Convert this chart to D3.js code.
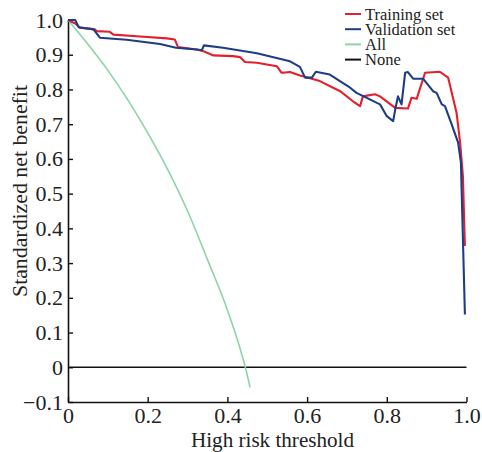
<!DOCTYPE html>
<html>
<head>
<meta charset="utf-8">
<script src="https://cdn.jsdelivr.net/npm/d3@7"></script>
<style>
  body { margin: 0; background: #fff; }
  text { font-family: "Liberation Serif", "Times New Roman", serif; fill: #222; }
</style>
</head>
<body>
<div id="chart"></div>
<script>
// ----------------------------
// DATA
// ----------------------------
const trainX = [0, 0.018, 0.03, 0.068, 0.072, 0.105, 0.114, 0.172, 0.248, 0.268, 0.276, 0.323, 0.34, 0.365, 0.414, 0.432, 0.444, 0.474, 0.524, 0.536, 0.557, 0.582, 0.612, 0.632, 0.683, 0.715, 0.733, 0.74, 0.77, 0.783, 0.821, 0.853, 0.862, 0.875, 0.896, 0.933, 0.954, 0.975, 0.984, 0.991, 0.996];
const trainY = [1.0, 0.99, 0.978, 0.973, 0.968, 0.966, 0.958, 0.953, 0.947, 0.944, 0.922, 0.915, 0.91, 0.898, 0.896, 0.893, 0.879, 0.877, 0.867, 0.848, 0.85, 0.84, 0.831, 0.824, 0.795, 0.766, 0.752, 0.78, 0.786, 0.78, 0.747, 0.745, 0.776, 0.773, 0.848, 0.851, 0.834, 0.733, 0.647, 0.55, 0.349];

const validX = [0, 0.018, 0.027, 0.064, 0.08, 0.147, 0.231, 0.271, 0.323, 0.336, 0.341, 0.389, 0.474, 0.557, 0.582, 0.595, 0.612, 0.622, 0.657, 0.708, 0.724, 0.783, 0.8, 0.816, 0.821, 0.828, 0.837, 0.846, 0.853, 0.866, 0.891, 0.903, 0.916, 0.925, 0.938, 0.946, 0.963, 0.979, 0.986, 0.996];
const validY = [1.0, 1.0, 0.979, 0.973, 0.949, 0.943, 0.931, 0.92, 0.915, 0.913, 0.927, 0.92, 0.904, 0.881, 0.865, 0.834, 0.834, 0.851, 0.843, 0.805, 0.79, 0.757, 0.723, 0.709, 0.742, 0.78, 0.757, 0.848, 0.85, 0.831, 0.831, 0.814, 0.795, 0.79, 0.757, 0.752, 0.699, 0.647, 0.589, 0.152];

const allX = [0, 0.05, 0.1, 0.15, 0.2, 0.25, 0.3, 0.35, 0.4, 0.445, 0.457];
const allY = [1.0, 0.93, 0.855, 0.77, 0.675, 0.57, 0.45, 0.31, 0.165, 0.0, -0.058];

const noneX = [0, 1.0];
const noneY = [0, 0];

const xTicks = [0, 0.2, 0.4, 0.6, 0.8, 1.0];
const yTicks = [-0.1, 0, 0.1, 0.2, 0.3, 0.4, 0.5, 0.6, 0.7, 0.8, 0.9, 1.0];

const seriesNames = ["Training set", "Validation set", "All", "None"];
const seriesColors = ["#e3202b", "#1e3d87", "#8dd3a8", "#111111"];

// ----------------------------
// SETUP
// ----------------------------
const width = 482;
const height = 452;

const svg = d3.select("#chart")
  .append("svg")
  .attr("width", width)
  .attr("height", height);

const x = d3.scaleLinear().domain([0, 1]).range([68, 466.5]);
const y = d3.scaleLinear().domain([-0.1, 1.0]).range([402, 20]);

const fmtY = d => d === 0 ? "0" : (d < 0 ? "\u2212" + d3.format(".1f")(-d) : d3.format(".1f")(d));
const fmtX = d => d === 0 ? "0" : d3.format(".1f")(d);

// ----------------------------
// AXES (ticks inward)
// ----------------------------
const xAxis = svg.append("g")
  .attr("transform", `translate(0,${y(-0.1)})`)
  .call(d3.axisBottom(x).tickValues(xTicks).tickFormat(fmtX).tickSizeInner(-5).tickSizeOuter(0).tickPadding(5));

const yAxis = svg.append("g")
  .attr("transform", `translate(${x(0)},0)`)
  .call(d3.axisLeft(y).tickValues(yTicks).tickFormat(fmtY).tickSizeInner(-5).tickSizeOuter(0).tickPadding(5));

[xAxis, yAxis].forEach(a => {
  a.select(".domain").attr("stroke", "#111").attr("stroke-width", 1.6);
  a.selectAll(".tick line").attr("stroke", "#111").attr("stroke-width", 1.4);
  a.selectAll(".tick text")
    .style("font-size", "22px")
    .style("font-family", "'Liberation Serif', serif")
    .attr("fill", "#222");
});

// ----------------------------
// LINES
// ----------------------------
const line = d3.line()
  .x(d => x(d[0]))
  .y(d => y(d[1]));

const smooth = d3.line()
  .x(d => x(d[0]))
  .y(d => y(d[1]))
  .curve(d3.curveMonotoneX);

const series = [
  { name: "None", pts: d3.zip(noneX, noneY), color: seriesColors[3], w: 1.6, gen: line },
  { name: "All", pts: d3.zip(allX, allY), color: seriesColors[2], w: 1.6, gen: smooth },
  { name: "Training set", pts: d3.zip(trainX, trainY), color: seriesColors[0], w: 2.1, gen: line },
  { name: "Validation set", pts: d3.zip(validX, validY), color: seriesColors[1], w: 2.1, gen: line }
];

svg.selectAll(".series")
  .data(series)
  .join("path")
  .attr("class", "series")
  .attr("fill", "none")
  .attr("stroke", d => d.color)
  .attr("stroke-width", d => d.w)
  .attr("stroke-linejoin", "round")
  .attr("d", d => d.gen(d.pts));

// ----------------------------
// AXIS TITLES
// ----------------------------
svg.append("text")
  .attr("x", 272.5)
  .attr("y", 447)
  .attr("text-anchor", "middle")
  .style("font-size", "21px")
  .attr("textLength", 163)
  .attr("lengthAdjust", "spacingAndGlyphs")
  .text("High risk threshold");

svg.append("text")
  .attr("transform", `translate(27,191) rotate(-90)`)
  .attr("text-anchor", "middle")
  .style("font-size", "21px")
  .attr("textLength", 212)
  .attr("lengthAdjust", "spacingAndGlyphs")
  .text("Standardized net benefit");

// ----------------------------
// LEGEND
// ----------------------------
const legend = svg.append("g").attr("transform", "translate(345,14)");

const items = legend.selectAll(".legend-item")
  .data(seriesNames)
  .join("g")
  .attr("class", "legend-item")
  .attr("transform", (_, i) => `translate(0,${i * 15.2})`);

items.append("line")
  .attr("x1", 0).attr("x2", 16)
  .attr("stroke", (_, i) => seriesColors[i])
  .attr("stroke-width", 2);

items.append("text")
  .attr("x", 20)
  .attr("y", 5.5)
  .style("font-size", "16.5px")
  .text(d => d);
</script>
</body>
</html>
